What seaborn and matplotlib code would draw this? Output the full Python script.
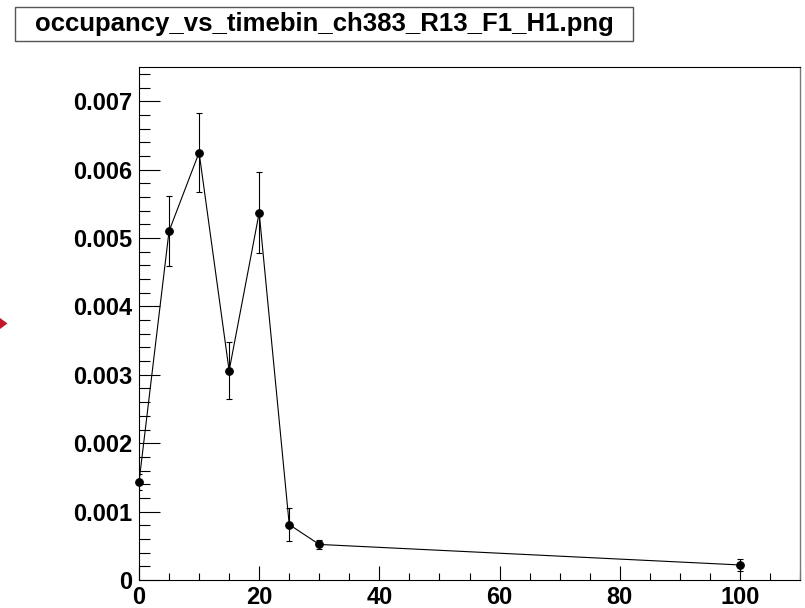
import numpy as np
import pandas as pd
import matplotlib
matplotlib.use("Agg")
import matplotlib.pyplot as plt
from matplotlib.ticker import MultipleLocator, FixedLocator, FixedFormatter
from matplotlib.patches import Rectangle, Polygon
import seaborn as sns

# ---- data ----
timebin = [0, 5, 10, 15, 20, 25, 30, 100]
occupancy = [0.00143, 0.00510, 0.00625, 0.00306, 0.00537, 0.00081, 0.00052, 0.00022]
occ_err = [0.00012, 0.00051, 0.00058, 0.00042, 0.00059, 0.00024, 0.00007, 0.00009]
title = "occupancy_vs_timebin_ch383_R13_F1_H1.png"
y_ticks = [0, 0.001, 0.002, 0.003, 0.004, 0.005, 0.006, 0.007]
y_ticklabels = ["0", "0.001", "0.002", "0.003", "0.004", "0.005", "0.006", "0.007"]
x_ticks = [0, 20, 40, 60, 80, 100]
x_ticklabels = ["0", "20", "40", "60", "80", "100"]

df = pd.DataFrame({"timebin": timebin, "occupancy": occupancy, "err": occ_err})

sns.set_style("white")
plt.rcParams["font.family"] = ["Liberation Sans", "DejaVu Sans"]

W, H = 805, 608
fig = plt.figure(figsize=(W / 100, H / 100), dpi=100)
fig.patch.set_facecolor("white")

L, R, T, B = 139, 800, 67, 580
ax = fig.add_axes([L / W, 1 - B / H, (R - L) / W, (B - T) / H])

sns.lineplot(data=df, x="timebin", y="occupancy", ax=ax, color="black",
             linewidth=0.8, marker="o", markersize=5.5, markeredgecolor="black",
             markerfacecolor="black", clip_on=False, zorder=3, sort=False)
ax.errorbar(df["timebin"], df["occupancy"], yerr=df["err"], fmt="none",
            ecolor="black", elinewidth=0.8, capsize=2.2, capthick=0.8,
            clip_on=True, zorder=2)

ax.set_xlim(0, 110)
ax.set_ylim(0, 0.0075)
ax.set_xlabel("")
ax.set_ylabel("")

ax.xaxis.set_major_locator(FixedLocator(x_ticks))
ax.xaxis.set_major_formatter(FixedFormatter(x_ticklabels))
ax.xaxis.set_minor_locator(MultipleLocator(5))
ax.yaxis.set_major_locator(FixedLocator(y_ticks))
ax.yaxis.set_major_formatter(FixedFormatter(y_ticklabels))
ax.yaxis.set_minor_locator(MultipleLocator(0.0002))

px = 0.72
ax.tick_params(axis="x", which="major", direction="in", length=14 * px, width=0.8,
               color="black", labelsize=17, pad=4, bottom=True, top=False)
ax.tick_params(axis="x", which="minor", direction="in", length=7 * px, width=0.8,
               color="black", bottom=True, top=False)
ax.tick_params(axis="y", which="major", direction="in", length=21 * px, width=0.8,
               color="black", labelsize=17, pad=5, left=True, right=False)
ax.tick_params(axis="y", which="minor", direction="in", length=11 * px, width=0.8,
               color="black", left=True, right=False)
for lab in ax.get_xticklabels() + ax.get_yticklabels():
    lab.set_fontweight("bold")
    lab.set_color("black")

for side in ["left", "bottom", "top"]:
    ax.spines[side].set_visible(True)
    ax.spines[side].set_color("black")
    ax.spines[side].set_linewidth(0.8)
ax.spines["right"].set_visible(True)
ax.spines["right"].set_color("#777777")
ax.spines["right"].set_linewidth(1.0)

# title box
bx0, by0, bx1, by1 = 15, 7, 633, 41
fig.patches.append(Rectangle((bx0 / W, 1 - by1 / H), (bx1 - bx0) / W, (by1 - by0) / H,
                             transform=fig.transFigure, facecolor="white",
                             edgecolor="#555555", linewidth=1.0))
fig.text((36 + 613) / 2 / W, 1 - 24 / H, title, ha="center", va="center",
         fontsize=18.5, fontweight="bold", color="black")

# small red marker at left edge
fig.patches.append(Polygon([(0 / W, 1 - 318 / H), (7.5 / W, 1 - 323.5 / H), (0 / W, 1 - 329 / H)],
                           closed=True, transform=fig.transFigure,
                           facecolor="#c4162a", edgecolor="none"))

fig.savefig("out.png", dpi=100)
